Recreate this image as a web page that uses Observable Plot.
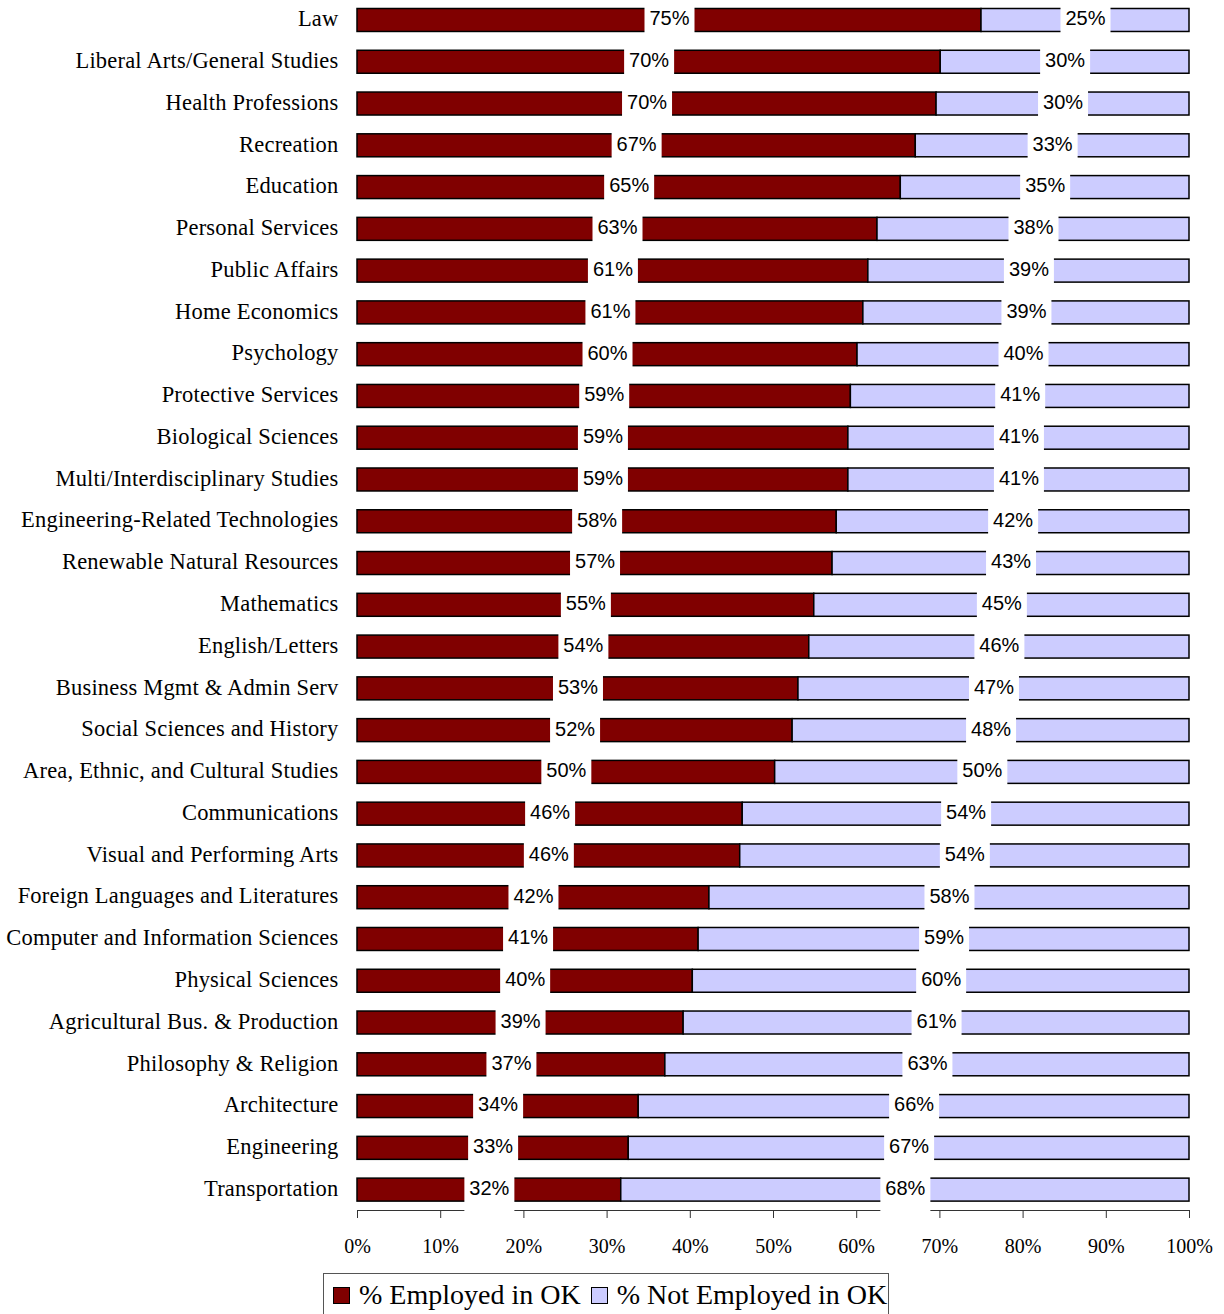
<!DOCTYPE html>
<html>
<head>
<meta charset="utf-8">
<script src="https://cdn.jsdelivr.net/npm/d3@7"></script>
<script src="https://cdn.jsdelivr.net/npm/@observablehq/plot@0.6"></script>
<style>
  body { margin: 0; background: #fff; }
  #chart { width: 1224px; }
  #chart svg { display: block; }
  g[aria-label="y-axis tick label"] { letter-spacing: 0.2px; }
  .legend {
    margin-left: 323px; margin-top: 8px; width: 566px; height: 44px;
    border: 1px solid #555; box-sizing: border-box; display: flex; align-items: center;
    font-family: "Liberation Serif", "Times New Roman", serif; font-size: 28px; color: #000;
    padding-left: 9px; white-space: nowrap;
  }
  .sw { display: inline-block; width: 15px; height: 15px; border: 1.5px solid #000; margin-right: 9px; }
  .item { display: inline-flex; align-items: center; margin-right: 10px; }
</style>
</head>
<body>
<div id="chart"></div>
<script>
const categories = [
  "Law", "Liberal Arts/General Studies", "Health Professions", "Recreation", "Education",
  "Personal Services", "Public Affairs", "Home Economics", "Psychology", "Protective Services",
  "Biological Sciences", "Multi/Interdisciplinary Studies", "Engineering-Related Technologies",
  "Renewable Natural Resources", "Mathematics", "English/Letters", "Business Mgmt & Admin Serv",
  "Social Sciences and History", "Area, Ethnic, and Cultural Studies", "Communications",
  "Visual and Performing Arts", "Foreign Languages and Literatures", "Computer and Information Sciences",
  "Physical Sciences", "Agricultural Bus. & Production", "Philosophy & Religion", "Architecture",
  "Engineering", "Transportation"
];
const employed = [75, 70.1, 69.6, 67.1, 65.3, 62.5, 61.4, 60.8, 60.1, 59.3, 59.0, 59.0, 57.6, 57.1, 54.9, 54.3, 53.0, 52.3, 50.2, 46.3, 46.0, 42.3, 41.0, 40.3, 39.2, 37.0, 33.8, 32.6, 31.7];
const notEmployed = [25, 29.9, 30.4, 32.9, 34.7, 37.5, 38.6, 39.2, 39.9, 40.7, 41.0, 41.0, 42.4, 42.9, 45.1, 45.7, 47.0, 47.7, 49.8, 53.7, 54.0, 57.7, 59.0, 59.7, 60.8, 63.0, 66.2, 67.4, 68.3];
const seriesNames = ["% Employed in OK", "% Not Employed in OK"];
const seriesColors = ["#800000", "#CCCCFF"];
const xTicks = [0, 10, 20, 30, 40, 50, 60, 70, 80, 90, 100];

const rows = [];
categories.forEach((c, i) => {
  rows.push({category: c, series: seriesNames[0], value: employed[i]});
  rows.push({category: c, series: seriesNames[1], value: notEmployed[i]});
});

const stackOpts = {x: "value", y: "category", z: "series"};

const chart = Plot.plot({
  width: 1224,
  height: 1265,
  marginLeft: 357,
  marginRight: 35,
  marginTop: 0,
  marginBottom: 55,
  style: {background: "#fff", color: "#000"},
  x: {domain: [0, 100], axis: null},
  y: {domain: categories, padding: 0.45, range: [-10.3, 1219.9], round: false, axis: null},
  color: {domain: seriesNames, range: seriesColors},
  marks: [
    Plot.axisX({ticks: xTicks, tickSize: 8, tickPadding: 20, tickFormat: d => d + "%", label: null,
      fontSize: 20, fontFamily: "Liberation Serif, Times New Roman, serif", stroke: "#333", fill: "#000"}),
    Plot.frame({anchor: "bottom", stroke: "#333"}),
    Plot.axisY({tickSize: 0, tickPadding: 19, fontSize: 22.5, label: null, dy: -1.5,
      fontFamily: "Liberation Serif, Times New Roman, serif", fill: "#000"}),
    Plot.barX(rows, Plot.stackX({...stackOpts, fill: "series", stroke: "#000", strokeWidth: 1.5})),
    Plot.tickX(rows, Plot.stackX({...stackOpts, stroke: "#fff", strokeWidth: 50, insetTop: -16, insetBottom: -17})),
    Plot.text(rows, Plot.stackX({...stackOpts, text: d => Math.round(d.value) + "%", fill: "#000",
      fontSize: 20, fontFamily: "Liberation Sans, Arial, sans-serif", dy: -1.5}))
  ]
});
document.getElementById("chart").appendChild(chart);

const legendBox = document.createElement("div");
legendBox.className = "legend";
seriesNames.forEach((name, i) => {
  const item = document.createElement("span");
  item.className = "item";
  const sw = document.createElement("span");
  sw.className = "sw";
  sw.style.background = seriesColors[i];
  item.appendChild(sw);
  item.appendChild(document.createTextNode(name));
  legendBox.appendChild(item);
});
document.getElementById("chart").appendChild(legendBox);
</script>
</body>
</html>
